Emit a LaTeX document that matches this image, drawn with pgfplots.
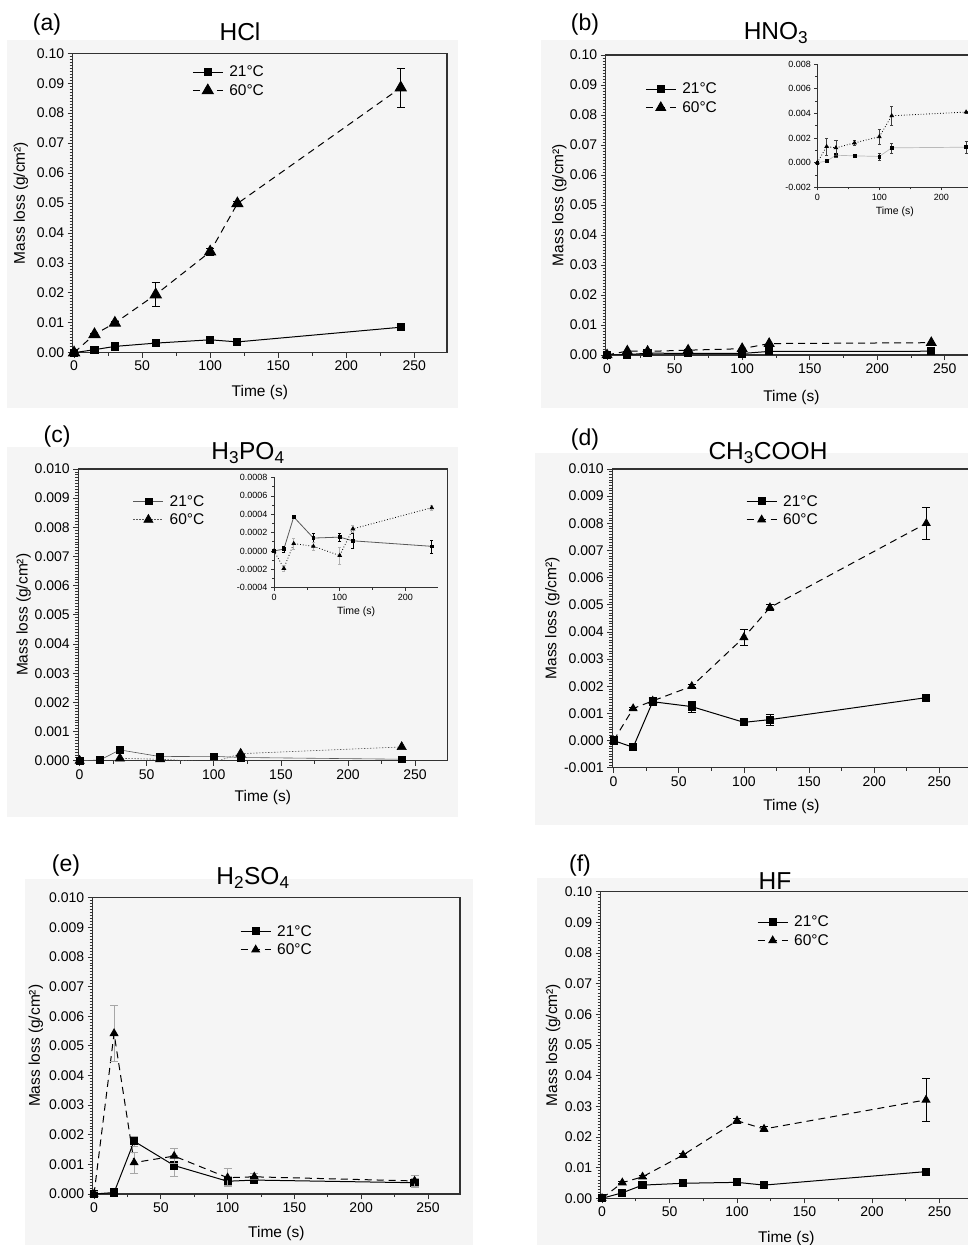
\documentclass[border=0pt]{standalone}
\usepackage{pgfplots}
\usepackage{pgfplotstable}
\pgfplotsset{compat=1.18}
\usepackage{fontspec}
\setmainfont{Liberation Sans}

\definecolor{panelbg}{RGB}{245,245,245}
\definecolor{frame}{RGB}{50,50,50}

% t = time (s), m = mass loss (g/cm2), e = error
\pgfplotstableread{
t m e
0 0 0
15 0.0010 0.0002
30 0.0021 0.0003
60 0.0032 0.0003
100 0.0043 0.0004
120 0.0036 0.0003
240 0.0085 0.0005
}\tabAlo
\pgfplotstableread{
t m e
0 0 0
15 0.0061 0.0003
30 0.0099 0.0005
60 0.0194 0.0041
100 0.0337 0.0012
120 0.0498 0.0007
240 0.0885 0.0065
}\tabAhi
\pgfplotstableread{
t m e
0 0 0
15 0.00012 0.00005
30 0.0006 0.0002
60 0.00055 0.0001
100 0.0005 0.0003
120 0.0012 0.0004
240 0.00125 0.00045
}\tabBlo
\pgfplotstableread{
t m e
0 0 0
15 0.0013 0.0007
30 0.0012 0.0006
60 0.0016 0.0002
100 0.0021 0.0006
120 0.0038 0.0008
240 0.0041 0.0001
}\tabBhi
\pgfplotstableread{
t m e
0 0 0
15 0.00002 0.00003
30 0.00037 0.00001
60 0.00014 0.00005
100 0.00015 0.00004
120 0.00011 0.00008
240 0.00005 0.00007
}\tabClo
\pgfplotstableread{
t m e
0 0 0
15 -0.00019 0.00003
30 0.00008 0.00006
60 0.00005 0.00004
100 -0.00005 0.00009
120 0.00024 0.00004
240 0.00047 0.00003
}\tabChi
\pgfplotstableread{
t m e
0 0 0.00005
15 -0.00025 0.00005
30 0.00143 0.00015
60 0.00125 0.0002
100 0.00067 0.0001
120 0.00077 0.0002
240 0.00158 0.0001
}\tabDlo
\pgfplotstableread{
t m e
0 0 0.00005
15 0.00118 0.00005
30 0.00146 0.0001
60 0.00200 0.00005
100 0.0038 0.00028
120 0.0049 0.0001
240 0.0080 0.0006
}\tabDhi
\pgfplotstableread{
t m e
0 0 0.00003
15 0.00005 0.00002
30 0.00178 0.00018
60 0.00096 0.00035
100 0.00043 0.00015
120 0.00047 0.00008
240 0.00038 0.00015
}\tabElo
\pgfplotstableread{
t m e
0 0 0.0001
15 0.00542 0.00093
30 0.00106 0.00035
60 0.00128 0.00025
100 0.00055 0.0003
120 0.00058 0.0001
240 0.00044 0.0002
}\tabEhi
\pgfplotstableread{
t m e
0 0 0
15 0.0018 0.0003
30 0.0043 0.0004
60 0.0049 0.0003
100 0.0052 0.0003
120 0.0043 0.0003
240 0.0087 0.0004
}\tabFlo
\pgfplotstableread{
t m e
0 0 0
15 0.0051 0.0004
30 0.0070 0.0005
60 0.0141 0.0006
100 0.0253 0.0008
120 0.0226 0.0008
240 0.0321 0.0071
}\tabFhi

\pgfplotsset{
  prec/.style={yticklabel style={/pgf/number format/.cd, fixed, fixed zerofill, precision=#1}},
  main/.style={
    scale only axis, anchor=south west,
    axis line style={frame, line width=1.1pt},
    every tick/.style={frame, line width=0.7pt},
    tick align=outside, tick pos=left,
    major tick length=5pt, minor tick length=3pt,
    xmin=-1, xmax=274, xtick={0,50,100,150,200,250}, minor x tick num=1,
    minor y tick num=9, scaled y ticks=false,
    /pgf/number format/assume math mode=true,
    tick label style={font=\fontsize{14}{16}\selectfont},
    label style={font=\fontsize{15.5}{18}\selectfont},
    xlabel={Time (s)}, ylabel={Mass loss (g/cm²)},
    xlabel style={at={(axis description cs:0.5,0)}, anchor=center},
    ylabel style={anchor=center},
    clip mode=individual,
    legend cell align=left,
    legend style={draw=none, fill=none, inner sep=0pt, anchor=north west,
      font=\fontsize{15.5}{18}\selectfont, nodes={inner sep=3pt}, column sep=3pt},
    legend image code/.code={\draw[mark repeat=2,mark phase=2] plot coordinates {(0pt,0pt) (15pt,0pt) (30pt,0pt)};},
  },
  inset/.style={
    scale only axis, anchor=south west,
    axis lines=left, axis line style={-, frame, line width=0.7pt},
    every tick/.style={frame, line width=0.5pt},
    tick align=outside, major tick length=3pt, minor tick length=2pt,
    xmin=0, xmax=250, xtick={0,100,200}, minor x tick num=1,
    minor y tick num=1, scaled y ticks=false,
    /pgf/number format/assume math mode=true,
    tick label style={font=\fontsize{9}{10}\selectfont},
    label style={font=\fontsize{10.5}{12}\selectfont},
    xlabel={Time (s)},
    xlabel style={at={(axis description cs:0.5,0)}, anchor=center},
    clip mode=individual,
  },
  cold/.style={black, line width=1pt, mark=square*, mark size=3.6pt, mark options={solid}},
  hot/.style={black, line width=1pt, dash pattern=on 7pt off 5pt, mark=triangle*, mark options={solid}},
  eb/.style={error bars/y dir=both, error bars/y explicit,
    error bars/error bar style={solid, line width=0.8pt, #1},
    error bars/error mark options={rotate=90, mark size=4pt, line width=0.8pt, solid, #1}},
  eb/.default=black,
  ebs/.style={error bars/y dir=both, error bars/y explicit,
    error bars/error bar style={solid, line width=0.5pt, #1},
    error bars/error mark options={rotate=90, mark size=1.6pt, line width=0.5pt, solid, #1}},
  ebs/.default=black,
}

\begin{document}
\begin{tikzpicture}
\useasboundingbox (0,0) rectangle (968pt,1245pt);
\clip (0,0) rectangle (968pt,1245pt);

\fill[panelbg] (7pt,837pt) rectangle (458pt,1205pt);
\fill[panelbg] (541pt,837pt) rectangle (968pt,1205pt);
\fill[panelbg] (7pt,428pt) rectangle (458pt,798pt);
\fill[panelbg] (535pt,420pt) rectangle (968pt,792pt);
\fill[panelbg] (25pt,0pt) rectangle (473pt,366pt);
\fill[panelbg] (537pt,0pt) rectangle (968pt,367pt);

% (a) HCl
\begin{axis}[main, at={(72.7pt,892.3pt)}, width=374.3pt, height=299.4pt,
  ymin=0, ymax=0.1, ytick={0,0.01,0.02,0.03,0.04,0.05,0.06,0.07,0.08,0.09,0.1}, prec=2,
  ylabel style={at={(axis description cs:-0.1387,0.5)}},
  xlabel style={yshift=-40pt},
  legend style={at={(0.319,0.968)}}]
\addplot[cold, eb] table[x=t, y=m, y error=e] {\tabAlo};
\addlegendentry{21°C}
\addplot[hot, mark size=6.3pt, eb] table[x=t, y=m, y error=e] {\tabAhi};
\addlegendentry{60°C}
\end{axis}

% (b) HNO3
\begin{axis}[main, at={(605.7pt,890pt)}, width=371.5pt, height=300pt,
  ymin=0, ymax=0.1, ytick={0,0.01,0.02,0.03,0.04,0.05,0.06,0.07,0.08,0.09,0.1}, prec=2,
  ylabel style={at={(axis description cs:-0.125,0.5)}},
  xlabel style={yshift=-42pt},
  legend style={at={(0.106,0.917)}}]
\addplot[cold] table[x=t, y=m] {\tabBlo};
\addlegendentry{21°C}
\addplot[hot, mark size=5.5pt] table[x=t, y=m] {\tabBhi};
\addlegendentry{60°C}
\end{axis}
\begin{axis}[inset, at={(817.3pt,1057.7pt)}, width=155pt, height=123.3pt,
  ymin=-0.002, ymax=0.008, ytick={-0.002,0,0.002,0.004,0.006,0.008}, prec=3,
  xlabel style={yshift=-24.4pt}]
\addplot[gray!55, line width=0.7pt, mark=square*, mark size=1.4pt, mark options={black}, ebs=black!75] table[x=t, y=m, y error=e] {\tabBlo};
\addplot[black, dotted, line width=0.8pt, mark=triangle*, mark size=2pt, mark options={solid}, ebs=black!75] table[x=t, y=m, y error=e] {\tabBhi};
\end{axis}

% (c) H3PO4
\begin{axis}[main, at={(78.3pt,484.3pt)}, width=369pt, height=291.7pt,
  ymin=0, ymax=0.01, ytick={0,0.001,0.002,0.003,0.004,0.005,0.006,0.007,0.008,0.009,0.01}, prec=3,
  ylabel style={at={(axis description cs:-0.148,0.5)}},
  xlabel style={yshift=-37pt},
  legend style={at={(0.148,0.921)}}]
\addplot[gray!70!black, line width=0.6pt, mark=square*, mark size=3.4pt, mark options={black}] table[x=t, y=m] {\tabClo};
\addlegendentry{21°C}
\addplot[gray!70!black, line width=0.6pt, dash pattern=on 1.5pt off 1.5pt, mark=triangle*, mark size=5.3pt, mark options={solid, black}] table[x=t, y=m] {\tabChi};
\addlegendentry{60°C}
\end{axis}
\begin{axis}[inset, at={(274pt,657.3pt)}, width=164.3pt, height=110.3pt,
  ymin=-0.0004, ymax=0.0008, ytick={-0.0004,-0.0002,0,0.0002,0.0004,0.0006,0.0008}, prec=4,
  xlabel style={yshift=-24pt}]
\addplot[gray!70!black, line width=0.8pt, mark=square*, mark size=1.4pt, mark options={black}, ebs=black] table[x=t, y=m, y error=e] {\tabClo};
\addplot[black, dotted, line width=0.8pt, mark=triangle*, mark size=2pt, mark options={solid}, ebs=gray!60] table[x=t, y=m, y error=e] {\tabChi};
\end{axis}

% (d) CH3COOH
\begin{axis}[main, at={(612.3pt,477.3pt)}, width=358.3pt, height=298.7pt,
  ymin=-0.001, ymax=0.01, ytick={-0.001,0,0.001,0.002,0.003,0.004,0.005,0.006,0.007,0.008,0.009,0.01}, prec=3,
  ylabel style={at={(axis description cs:-0.167,0.5)}},
  xlabel style={yshift=-39pt},
  legend style={at={(0.373,0.923)}}]
\addplot[cold, eb] table[x=t, y=m, y error=e] {\tabDlo};
\addlegendentry{21°C}
\addplot[hot, mark size=4.3pt, eb] table[x=t, y=m, y error=e] {\tabDhi};
\addlegendentry{60°C}
\end{axis}

% (e) H2SO4
\begin{axis}[main, at={(92.7pt,51pt)}, width=367.3pt, height=296.3pt,
  ymin=0, ymax=0.01, ytick={0,0.001,0.002,0.003,0.004,0.005,0.006,0.007,0.008,0.009,0.01}, prec=3,
  ylabel style={at={(axis description cs:-0.155,0.5)}},
  xlabel style={yshift=-39pt},
  legend style={at={(0.401,0.918)}}]
\addplot[cold, eb=gray!70] table[x=t, y=m, y error=e] {\tabElo};
\addlegendentry{21°C}
\addplot[hot, mark size=4.3pt, eb=gray!70] table[x=t, y=m, y error=e] {\tabEhi};
\addlegendentry{60°C}
\end{axis}

% (f) HF
\begin{axis}[main, at={(600.7pt,46.7pt)}, width=371.2pt, height=306.6pt,
  ymin=0, ymax=0.1, ytick={0,0.01,0.02,0.03,0.04,0.05,0.06,0.07,0.08,0.09,0.1}, prec=2,
  ylabel style={at={(axis description cs:-0.128,0.5)}},
  xlabel style={yshift=-40pt},
  legend style={at={(0.421,0.931)}}]
\addplot[cold, eb] table[x=t, y=m, y error=e] {\tabFlo};
\addlegendentry{21°C}
\addplot[hot, mark size=4.3pt, eb] table[x=t, y=m, y error=e] {\tabFhi};
\addlegendentry{60°C}
\end{axis}

% panel letters and titles
\begin{scope}[every node/.style={anchor=base}]
\node[font=\fontsize{23}{26}\selectfont] at (47pt,1214pt) {(a)};
\node[font=\fontsize{23}{26}\selectfont] at (585pt,1214pt) {(b)};
\node[font=\fontsize{23}{26}\selectfont] at (57pt,802.3pt) {(c)};
\node[font=\fontsize{23}{26}\selectfont] at (585pt,799pt) {(d)};
\node[font=\fontsize{23}{26}\selectfont] at (66pt,373.3pt) {(e)};
\node[font=\fontsize{23}{26}\selectfont] at (580pt,373.3pt) {(f)};
\node[font=\fontsize{24.5}{28}\selectfont] at (240pt,1204.3pt) {HCl};
\node[font=\fontsize{24.5}{28}\selectfont] at (776pt,1205pt) {HNO\textsubscript{3}};
\node[font=\fontsize{24.5}{28}\selectfont] at (248pt,785.7pt) {H\textsubscript{3}PO\textsubscript{4}};
\node[font=\fontsize{24.5}{28}\selectfont] at (768pt,785pt) {CH\textsubscript{3}COOH};
\node[font=\fontsize{24.5}{28}\selectfont] at (253pt,360.7pt) {H\textsubscript{2}SO\textsubscript{4}};
\node[font=\fontsize{24.5}{28}\selectfont] at (775pt,355pt) {HF};
\end{scope}
\end{tikzpicture}
\end{document}
